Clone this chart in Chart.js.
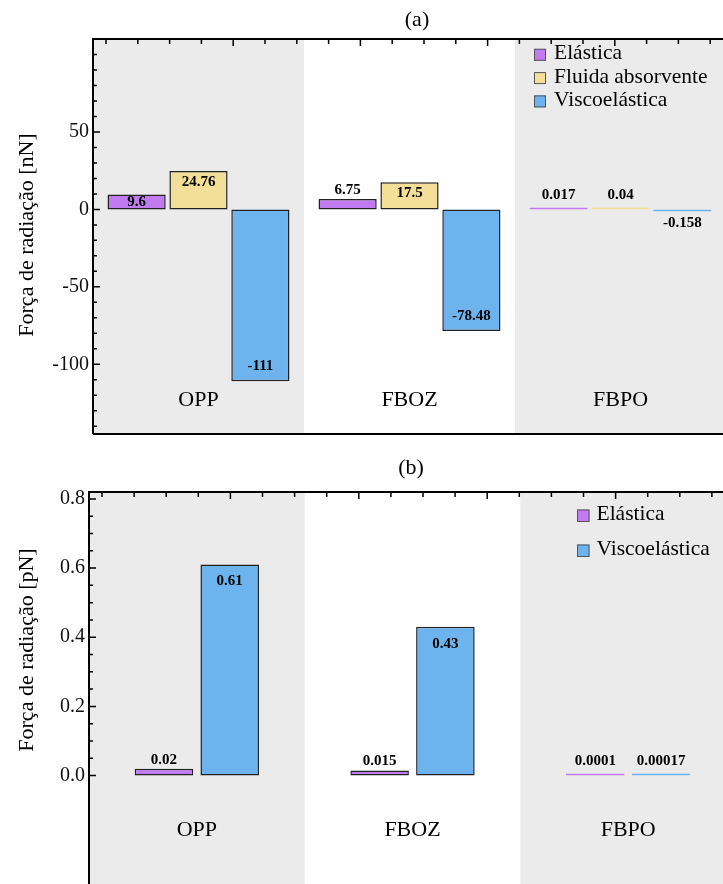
<!DOCTYPE html>
<html>
<head>
<meta charset="utf-8">
<script src="https://cdn.jsdelivr.net/npm/chart.js@4.4.0/dist/chart.umd.min.js"></script>
<style>
  html, body { margin: 0; padding: 0; background: #fff; overflow: hidden; }
  #wrap { position: relative; width: 723px; height: 884px; overflow: hidden; }
  canvas { position: absolute; left: 0; }
  #ca { top: 0; }
  #cb { top: 450px; }
</style>
</head>
<body>
<div id="wrap">
  <canvas id="ca" width="740" height="450"></canvas>
  <canvas id="cb" width="740" height="464"></canvas>
</div>
<script>
const categories = ['OPP', 'FBOZ', 'FBPO'];

// (a) força de radiação em nN
const elasticaA = [9.6, 6.75, 0.017];
const fluidaA = [24.76, 17.5, 0.04];
const viscoA = [-111, -78.48, -0.158];
const yTicksA = [-100, -50, 0, 50];

// (b) força de radiação em pN
const elasticaB = [0.02, 0.015, 0.0001];
const viscoB = [0.61, 0.43, 0.00017];
const yTicksB = [0, 0.2, 0.4, 0.6, 0.8];

const PURPLE = '#c27af0';
const YELLOW = '#f3df98';
const BLUE = '#6db4ee';
const SERIF = '"Liberation Serif", "DejaVu Serif", serif';

function bars(label, data, color) {
  return {
    label,
    data,
    backgroundColor: color,
    // tiny bars are drawn as a coloured line, without the dark edge
    borderColor: c => {
      const y = c.chart.scales.y;
      if (!y || c.raw === undefined) return '#222';
      const h = Math.abs(y.getPixelForValue(c.raw) - y.getPixelForValue(0));
      return h < 3 ? color : '#222';
    },
    borderWidth: 1.5,
    borderSkipped: false,
    minBarLength: 2
  };
}

const decor = {
  id: 'decor',
  beforeDatasetsDraw(chart, args, o) {
    const { ctx, chartArea: a, scales: { x } } = chart;
    const w = (a.right - a.left) / categories.length;
    ctx.save();
    ctx.fillStyle = '#ebebeb';
    categories.forEach((c, i) => {
      if (i % 2) return;
      const cx = x.getPixelForValue(i);
      ctx.fillRect(cx - w / 2, a.top, w, a.bottom - a.top);
    });
    ctx.restore();
  },
  afterDatasetsDraw(chart, args, o) {
    const { ctx, chartArea: a, scales: { x, y } } = chart;
    ctx.save();

    // value labels
    ctx.font = 'bold 15px ' + SERIF;
    ctx.fillStyle = '#000';
    ctx.textAlign = 'center';
    ctx.textBaseline = 'middle';
    const zero = y.getPixelForValue(0);
    chart.data.datasets.forEach((ds, di) => {
      chart.getDatasetMeta(di).data.forEach((bar, i) => {
        const v = ds.data[i];
        const h = Math.abs(bar.base - bar.y);
        let ty;
        if (h >= 13) {
          const off = Math.min(v >= 0 ? o.insidePos : o.insideNeg, h / 2);
          ty = v >= 0 ? bar.y + off : bar.y - off;
        } else {
          ty = v >= 0 ? Math.min(bar.y - 9, zero - 14) : Math.max(bar.y + 9, zero + 14);
        }
        ctx.fillText(String(v), bar.x, ty);
      });
    });

    // category names inside the frame
    ctx.font = '22px ' + SERIF;
    const cy = y.getPixelForValue(o.catY);
    categories.forEach((c, i) => ctx.fillText(c, x.getPixelForValue(i), cy));

    // frame
    ctx.strokeStyle = '#000';
    ctx.lineWidth = 2;
    ctx.beginPath();
    ctx.moveTo(a.left, a.bottom);
    ctx.lineTo(a.left, a.top);
    ctx.lineTo(a.right, a.top);
    ctx.moveTo(a.left, a.bottom);
    ctx.lineTo(a.right, a.bottom);
    ctx.stroke();

    // inward ticks on the left axis
    ctx.lineWidth = 1.5;
    ctx.beginPath();
    const from = Math.max(o.minorFrom, y.min);
    for (let k = Math.ceil(from / o.minorStep - 1e-9); k * o.minorStep <= y.max + 1e-9; k++) {
      const v = k * o.minorStep;
      const major = o.majors.some(m => Math.abs(m - v) < 1e-9);
      const py = y.getPixelForValue(v);
      ctx.moveTo(a.left, py);
      ctx.lineTo(a.left + (major ? 7 : 4), py);
    }
    // ticks on the top edge
    for (let k = 0, px = a.left + o.topStart; px < a.right; k++, px += o.topStep) {
      ctx.moveTo(px, a.top);
      ctx.lineTo(px, a.top + (k > 0 && k % 4 === 0 ? 7 : 5));
    }
    ctx.stroke();

    // legend
    const L = o.legend;
    ctx.font = '21.5px ' + SERIF;
    ctx.textAlign = 'left';
    ctx.textBaseline = 'alphabetic';
    ctx.lineWidth = 1;
    ctx.strokeStyle = '#555';
    chart.data.datasets.forEach((ds, i) => {
      const by = L.y + i * L.dy;
      ctx.fillStyle = ds.backgroundColor;
      ctx.fillRect(L.x, by - 10.5, L.size, L.size);
      ctx.strokeRect(L.x + 0.5, by - 10, L.size - 1, L.size - 1);
      ctx.fillStyle = '#000';
      ctx.fillText(ds.label, L.x + L.size + L.gap, by);
    });

    // panel title and y title
    ctx.font = '22px ' + SERIF;
    ctx.textAlign = 'center';
    ctx.textBaseline = 'middle';
    ctx.fillText(o.title, o.titleX, o.titleY);
    ctx.translate(o.yTitleX, o.yTitleY);
    ctx.rotate(-Math.PI / 2);
    ctx.fillText(o.yTitle, 0, 0);
    ctx.restore();
  }
};

function yAxis(min, max, ticks, width, fmt) {
  return {
    min, max,
    position: 'left',
    afterFit: s => { s.width = width; },
    afterBuildTicks: s => { s.ticks = ticks.map(value => ({ value })); },
    grid: { display: false, drawTicks: false },
    border: { display: false },
    ticks: {
      padding: 4,
      color: '#111',
      font: { family: SERIF, size: 20 },
      callback: fmt
    }
  };
}

new Chart(document.getElementById('ca'), {
  type: 'bar',
  data: {
    labels: categories,
    datasets: [
      bars('Elástica', elasticaA, PURPLE),
      bars('Fluida absorvente', fluidaA, YELLOW),
      bars('Viscoelástica', viscoA, BLUE)
    ]
  },
  options: {
    responsive: false,
    animation: false,
    devicePixelRatio: 1,
    layout: { padding: { left: 0, top: 39, right: 14, bottom: 16 } },
    datasets: { bar: { categoryPercentage: 0.88, barPercentage: 0.94 } },
    scales: {
      x: { display: false },
      y: yAxis(-145, 110, yTicksA, 93, v => String(v))
    },
    plugins: {
      legend: { display: false },
      tooltip: { enabled: false },
      decor: {
        title: '(a)', titleX: 417, titleY: 20,
        yTitle: 'Força de radiação [nN]', yTitleX: 27, yTitleY: 235,
        catY: -123,
        insidePos: 11, insideNeg: 15,
        minorStep: 10, minorFrom: -1000, majors: yTicksA,
        topStart: 13, topStep: 31.8,
        legend: { x: 534, y: 59.3, dy: 23.3, size: 12, gap: 8 }
      }
    }
  },
  plugins: [decor]
});

new Chart(document.getElementById('cb'), {
  type: 'bar',
  data: {
    labels: categories,
    datasets: [
      bars('Elástica', elasticaB, PURPLE),
      bars('Viscoelástica', viscoB, BLUE)
    ]
  },
  options: {
    responsive: false,
    animation: false,
    devicePixelRatio: 1,
    layout: { padding: { left: 0, top: 42, right: 4, bottom: 14 } },
    datasets: { bar: { categoryPercentage: 0.61, barPercentage: 0.89 } },
    scales: {
      x: { display: false },
      y: yAxis(-0.354, 0.82, yTicksB, 89, v => v.toFixed(1))
    },
    plugins: {
      legend: { display: false },
      tooltip: { enabled: false },
      decor: {
        title: '(b)', titleX: 411, titleY: 18,
        yTitle: 'Força de radiação [pN]', yTitleX: 27, yTitleY: 200,
        catY: -0.158,
        insidePos: 17, insideNeg: 17,
        minorStep: 0.05, minorFrom: 0, majors: yTicksB,
        topStart: 13, topStep: 32.1,
        legend: { x: 577, y: 70, dy: 35, size: 12.5, gap: 7 }
      }
    }
  },
  plugins: [decor]
});
</script>
</body>
</html>
